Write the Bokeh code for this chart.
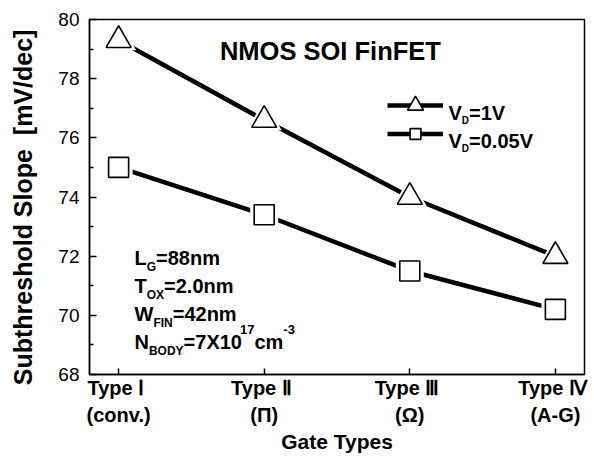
from bokeh.plotting import figure
from bokeh.models import (FixedTicker, LinearAxis, Range1d, Label, Legend,
                          LegendItem, ColumnDataSource)
from bokeh.embed import file_html
from bokeh.resources import INLINE

# ---------------- data ----------------
gate_pos = [1, 2, 3, 4]
type_labels = ["Type  Ⅰ", "Type  Ⅱ", "Type  Ⅲ", "Type  Ⅳ"]
sub_labels = ["(conv.)", "(Π)", "(Ω)", "(A-G)"]
ss_vd1 = [79.3, 76.6, 74.0, 72.0]      # V_D = 1 V  (triangles)
ss_vd005 = [75.0, 73.4, 71.5, 70.2]    # V_D = 0.05 V (squares)
y_ticks = [68, 70, 72, 74, 76, 78, 80]
y_minor = [69, 71, 73, 75, 77, 79]
# trailing no-break spaces shift the centred title slightly downward
y_title = "Subthreshold Slope \u00a0[mV/dec]\u00a0\u00a0\u00a0"

# ---------------- layout ----------------
W, H = 594, 458
L, R, T, B = 89, 10, 19, 84
X0, X1 = 0.8, 4.2
Y0, Y1 = 68, 80
FW, FH = W - L - R, H - T - B
FONT = "Liberation Sans"


def px2x(px):
    return X0 + (px - L) / FW * (X1 - X0)


def py2y(py):
    return Y1 - (py - T) / FH * (Y1 - Y0)


# Arial/Liberation Sans Bold advance widths (per 1000 em)
AW = {" ": 278, "(": 333, ")": 333, "-": 333, ".": 278, "=": 584, "/": 278,
      "A": 722, "B": 722, "D": 722, "E": 667, "F": 611, "G": 778, "I": 278,
      "L": 611, "M": 833, "N": 722, "O": 778, "S": 667, "T": 611, "V": 667,
      "W": 944, "X": 667, "Y": 667, "c": 556, "m": 889, "n": 611}


def tw(s, size):
    return sum(AW.get(c, 556) for c in s) * size / 1000.0


p = figure(width=W, height=H, x_range=Range1d(X0, X1), y_range=Range1d(Y0, Y1),
           output_backend="svg", toolbar_location=None,
           min_border_left=L, min_border_right=R, min_border_top=T,
           min_border_bottom=B)
p.grid.visible = False
p.outline_line_color = "black"
p.outline_line_width = 1.5
p.background_fill_color = "white"
p.border_fill_color = "white"

# y axis
ya = p.yaxis[0]
ya.ticker = FixedTicker(ticks=y_ticks, minor_ticks=y_minor)
ya.major_tick_in = 7
ya.major_tick_out = 0
ya.minor_tick_in = 4
ya.minor_tick_out = 0
ya.major_tick_line_width = 1.5
ya.minor_tick_line_width = 1.5
ya.axis_line_width = 1.5
ya.major_label_text_font = FONT
ya.major_label_text_font_size = "19px"
ya.major_label_text_color = "black"
ya.major_label_standoff = 10
ya.axis_label = y_title
ya.axis_label_text_font = FONT
ya.axis_label_text_font_style = "bold"
ya.axis_label_text_font_size = "25px"
ya.axis_label_text_color = "black"
ya.axis_label_standoff = 18

# x axis (first line of labels)
xa = p.xaxis[0]
xa.ticker = FixedTicker(ticks=gate_pos, minor_ticks=[])
xa.major_label_overrides = {g: t for g, t in zip(gate_pos, type_labels)}
xa.major_tick_in = 6
xa.major_tick_out = 0
xa.major_tick_line_width = 1.5
xa.axis_line_width = 1.5
xa.major_label_text_font = FONT
xa.major_label_text_font_style = "bold"
xa.major_label_text_font_size = "20px"
xa.major_label_text_color = "black"
xa.major_label_standoff = 2

# second line of labels + axis title
xb = LinearAxis(ticker=FixedTicker(ticks=gate_pos, minor_ticks=[]))
xb.major_label_overrides = {g: t for g, t in zip(gate_pos, sub_labels)}
xb.axis_line_color = None
xb.major_tick_line_color = None
xb.minor_tick_line_color = None
xb.major_tick_in = 0
xb.major_tick_out = 0
xb.major_label_standoff = 2
xb.major_label_text_font = FONT
xb.major_label_text_font_style = "bold"
xb.major_label_text_font_size = "20px"
xb.major_label_text_color = "black"
xb.axis_label = "Gate Types"
xb.axis_label_text_font = FONT
xb.axis_label_text_font_style = "bold"
xb.axis_label_text_font_size = "21px"
xb.axis_label_text_color = "black"
xb.axis_label_standoff = 1
p.add_layout(xb, "below")

# ---------------- series ----------------
s1 = ColumnDataSource(dict(x=gate_pos, y=ss_vd1))
s2 = ColumnDataSource(dict(x=gate_pos, y=ss_vd005))

l1 = p.line("x", "y", source=s1, line_color="black", line_width=4.5)
l2 = p.line("x", "y", source=s2, line_color="black", line_width=4.5)
# white halos produce the small gap between line and marker
p.scatter("x", "y", source=s1, marker="triangle", size=35, fill_color="white",
          line_color=None)
p.scatter("x", "y", source=s2, marker="square", size=28, fill_color="white",
          line_color=None)
m1 = p.scatter("x", "y", source=s1, marker="triangle", size=25,
               fill_color="white", line_color="black", line_width=1.6)
m2 = p.scatter("x", "y", source=s2, marker="square", size=20,
               fill_color="white", line_color="black", line_width=1.6)


# ---------------- legends (samples only; texts drawn as labels) ----------------
def make_legend(renderers, gh, loc):
    lg = Legend(items=[LegendItem(label=" ", renderers=renderers)],
                location=loc, glyph_width=56, glyph_height=gh,
                label_standoff=0, label_width=0, label_height=0,
                label_text_font_size="1px", padding=0, margin=0, spacing=0,
                border_line_color=None, background_fill_alpha=0)
    p.add_layout(lg, "center")


make_legend([l1, m1], 40, (387 - L, (T + FH) - 125))
make_legend([l2, m2], 27, (387 - L, (T + FH) - 146.5))


# ---------------- rich text helper ----------------
def rich(px, py, segs, align_center=False):
    total = sum(tw(t, s) for t, s, _, _ in segs)
    off = -total / 2 if align_center else 0.0
    for t, s, dy, dx in segs:
        off += dx
        p.add_layout(Label(x=px2x(px), y=py2y(py), x_offset=off, y_offset=dy,
                           text=t, text_font=FONT, text_font_style="bold",
                           text_font_size=f"{s}px", text_color="black",
                           text_baseline="alphabetic", text_align="left"))
        off += tw(t, s)


rich(333.5, 50, [("NMOS SOI FinFET", 25.5, 0, 0)], align_center=True)

rich(448, 112, [("V", 20, 0, 0), ("D", 10, -8, 0), ("=1V", 20, 0, 0)])
rich(448, 140, [("V", 20, 0, 0), ("D", 10, -8, 0), ("=0.05V", 20, 0, 0)])

rich(134, 257, [("L", 20, 0, 0), ("G", 12, -9, 0), ("=88nm", 20, 0, 0)])
rich(134, 285, [("T", 20, 0, 0), ("OX", 12, -9, 0), ("=2.0nm", 20, 0, 0)])
rich(134, 313, [("W", 20, 0, 0), ("FIN", 12, -9, 0), ("=42nm", 20, 0, 0)])
rich(134, 341, [("N", 20, 0, 0), ("BODY", 12, -9, 0), ("=7X10", 20, 0, 0),
                ("17", 13, 12, -2), ("cm", 20, 0, 0), ("-3", 13, 12, 0)])

open("out.html", "w").write(file_html(p, INLINE))
